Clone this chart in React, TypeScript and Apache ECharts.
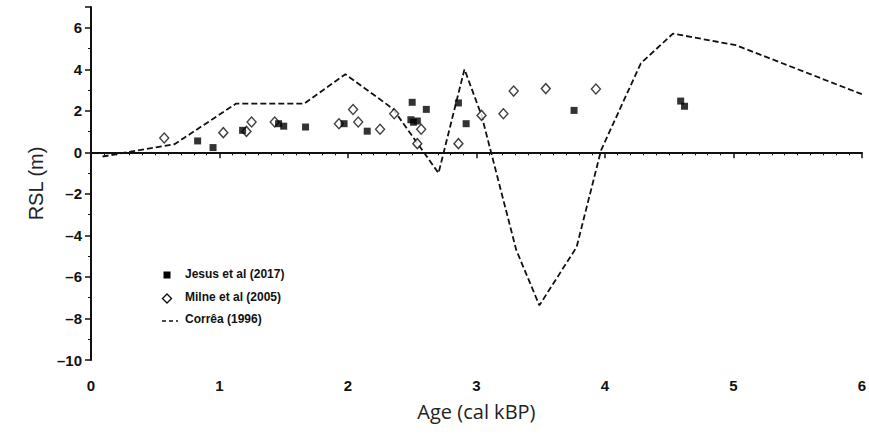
import React, { useEffect, useRef } from "react";
import * as echarts from "echarts";

const jesusX = [0.83, 0.95, 1.18, 1.46, 1.50, 1.67, 1.97, 2.15, 2.50, 2.61, 2.49, 2.51, 2.54, 2.86, 2.92, 3.76, 4.59, 4.62];
const jesusY = [0.55, 0.23, 1.06, 1.38, 1.26, 1.22, 1.38, 1.02, 2.41, 2.07, 1.57, 1.45, 1.51, 2.38, 1.38, 2.02, 2.47, 2.22];

const milneX = [0.57, 1.03, 1.21, 1.25, 1.43, 1.93, 2.04, 2.08, 2.25, 2.36, 2.54, 2.57, 2.86, 3.04, 3.21, 3.29, 3.54, 3.93];
const milneY = [0.69, 0.95, 1.01, 1.46, 1.46, 1.38, 2.06, 1.46, 1.11, 1.86, 0.42, 1.11, 0.42, 1.78, 1.86, 2.95, 3.07, 3.05];

const correaX = [0.09, 0.65, 1.13, 1.66, 1.98, 2.35, 2.705, 2.907, 3.04, 3.31, 3.49, 3.78, 3.97, 4.28, 4.53, 5.02, 6.0];
const correaY = [-0.2, 0.39, 2.35, 2.35, 3.76, 2.1, -1.0, 4.0, 1.78, -4.7, -7.37, -4.56, 0.1, 4.29, 5.72, 5.16, 2.8];

const xTicks = [0, 1, 2, 3, 4, 5, 6];
const yMin = -10;
const yMax = 7;

const legendNames = ["Jesus et al (2017)", "Milne et al (2005)", "Corrêa (1996)"];

const zip = (xs: number[], ys: number[]) => xs.map((x, i) => [x, ys[i]]);

export default function App() {
  const ref = useRef<HTMLDivElement>(null);
  useEffect(() => {
    if (!ref.current) return;
    const chart = echarts.init(ref.current, null, { renderer: "svg" });
    const tickFont = {
      fontFamily: "Liberation Sans",
      fontSize: 15,
      fontWeight: "bold" as const,
      color: "#111",
    };
    const legendText = (t: string, y: number) => ({
      type: "text",
      left: 185,
      top: y - 7,
      style: {
        text: t,
        font: "bold 12px 'Liberation Sans'",
        fill: "#111",
      },
    });
    chart.setOption({
      animation: false,
      backgroundColor: "#fff",
      grid: { left: 91, right: 4, top: 7, bottom: 78, containLabel: false },
      xAxis: {
        type: "value",
        min: xTicks[0],
        max: xTicks[xTicks.length - 1],
        interval: 1,
        name: "Age (cal kBP)",
        nameLocation: "middle",
        nameGap: 41,
        nameTextStyle: { fontFamily: "Open Sans", fontSize: 20, color: "#222" },
        axisLine: { show: true, lineStyle: { color: "#111", width: 2 } },
        axisTick: { show: true, length: 6, lineStyle: { color: "#111", width: 1.5 } },
        minorTick: { show: true, splitNumber: 10, length: 3, lineStyle: { color: "#111", width: 1 } },
        axisLabel: { ...tickFont, margin: 18 },
        splitLine: { show: false },
      },
      yAxis: {
        type: "value",
        min: yMin,
        max: yMax,
        interval: 2,
        name: "RSL (m)",
        nameLocation: "middle",
        nameGap: 45,
        nameRotate: 90,
        nameTextStyle: { fontFamily: "Liberation Sans", fontSize: 20, color: "#222" },
        axisLine: { show: true, lineStyle: { color: "#111", width: 2 } },
        axisTick: { show: true, length: 6, lineStyle: { color: "#111", width: 1.5 } },
        minorTick: { show: true, splitNumber: 2, length: 3, lineStyle: { color: "#111", width: 1 } },
        axisLabel: {
          ...tickFont,
          margin: 9,
          showMaxLabel: false,
          formatter: (v: number) => (v === yMax ? "" : String(v).replace("-", "–")),
        },
        splitLine: { show: false },
      },
      series: [
        {
          name: legendNames[2],
          type: "line",
          data: zip(correaX, correaY),
          symbol: "none",
          lineStyle: { color: "#111", width: 1.8, type: [6, 3] },
          z: 2,
          markLine: {
            silent: true,
            symbol: "none",
            label: { show: false },
            lineStyle: { color: "#111", width: 1.2, type: "solid" },
            data: [{ yAxis: 0 }],
          },
        },
        {
          name: legendNames[1],
          type: "scatter",
          data: zip(milneX, milneY),
          symbol: "diamond",
          symbolSize: [9, 10],
          itemStyle: { color: "#fff", borderColor: "#111", borderWidth: 1.4 },
          z: 3,
        },
        {
          name: legendNames[0],
          type: "scatter",
          data: zip(jesusX, jesusY),
          symbol: "rect",
          symbolSize: 7,
          itemStyle: { color: "#000" },
          z: 4,
        },
      ],
      graphic: [
        { type: "rect", shape: { x: 163.5, y: 271.5, width: 7, height: 7 }, style: { fill: "#000" } },
        legendText(legendNames[0], 275),
        {
          type: "polygon",
          shape: { points: [[167, 294], [171.5, 298.5], [167, 303], [162.5, 298.5]] },
          style: { fill: "#fff", stroke: "#111", lineWidth: 1.4 },
        },
        legendText(legendNames[1], 298),
        {
          type: "line",
          shape: { x1: 162, y1: 321, x2: 178, y2: 321 },
          style: { stroke: "#111", lineWidth: 1.6, lineDash: [4, 3] },
        },
        legendText(legendNames[2], 320),
      ],
    });
    return () => chart.dispose();
  }, []);
  return <div ref={ref} style={{ width: 869, height: 438, position: "absolute", left: 0, top: 0 }} />;
}
